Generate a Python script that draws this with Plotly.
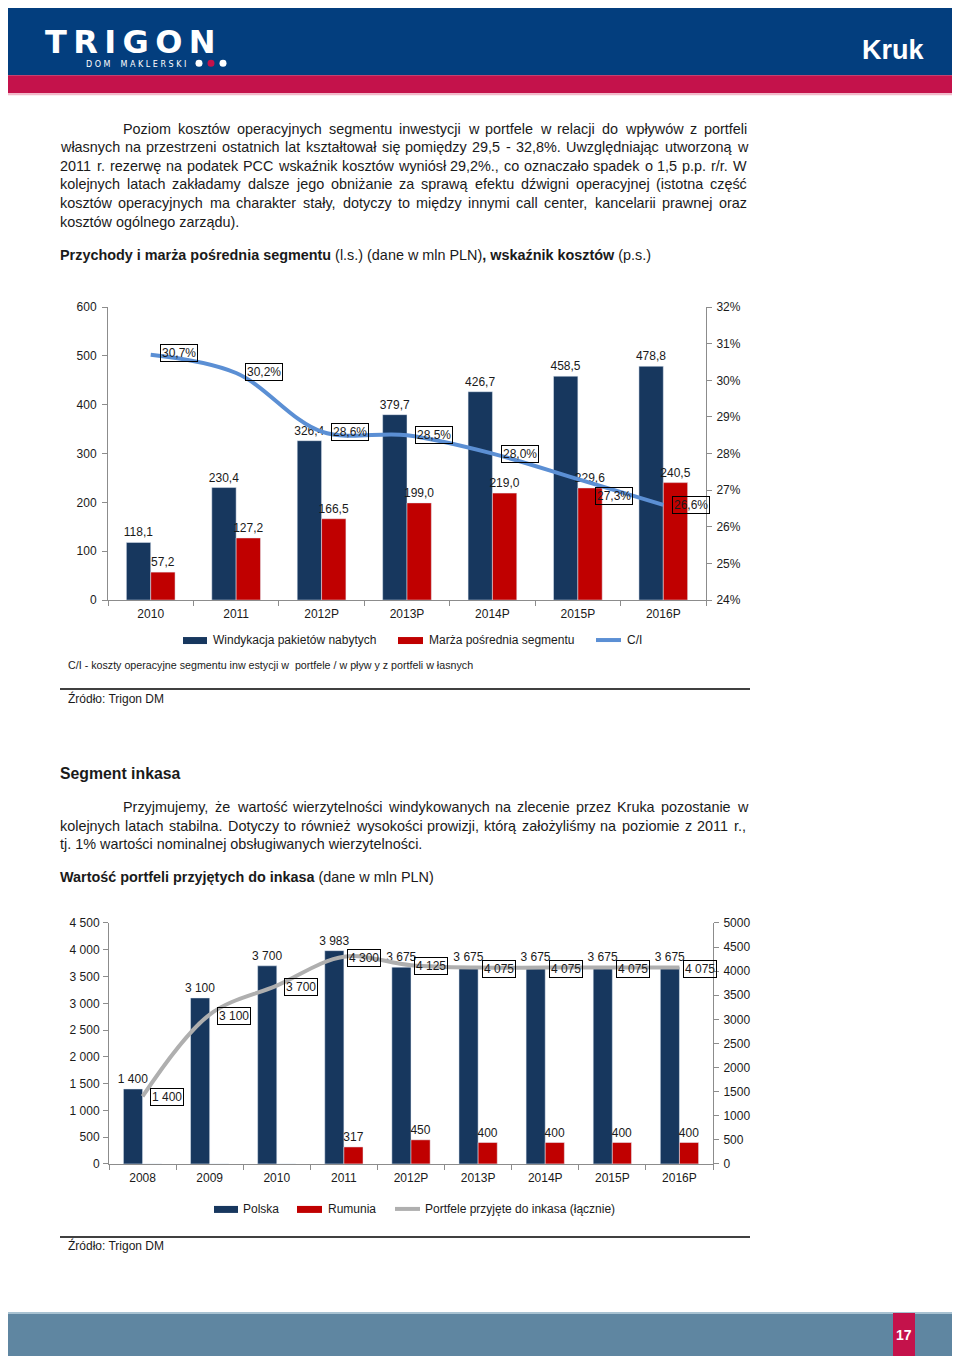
import plotly.graph_objects as go

# ---------------- data ----------------
years1 = ["2010", "2011", "2012P", "2013P", "2014P", "2015P", "2016P"]
windykacja = [118.1, 230.4, 326.4, 379.7, 426.7, 458.5, 478.8]
marza = [57.2, 127.2, 166.5, 199.0, 219.0, 229.6, 240.5]
ci_ratio = [30.7, 30.2, 28.6, 28.5, 28.0, 27.3, 26.6]
y1_ticks = [0, 100, 200, 300, 400, 500, 600]
y2_ticks = [24, 25, 26, 27, 28, 29, 30, 31, 32]

years2 = ["2008", "2009", "2010", "2011", "2012P", "2013P", "2014P", "2015P", "2016P"]
polska = [1400, 3100, 3700, 3983, 3675, 3675, 3675, 3675, 3675]
rumunia = [0, 0, 0, 317, 450, 400, 400, 400, 400]
portfele = [1400, 3100, 3700, 4300, 4125, 4075, 4075, 4075, 4075]
y3_ticks = [0, 500, 1000, 1500, 2000, 2500, 3000, 3500, 4000, 4500]
y4_ticks = [0, 500, 1000, 1500, 2000, 2500, 3000, 3500, 4000, 4500, 5000]

# ---------------- styles ----------------
LEFT = 8          # horizontal page offset of the figure
TOP = 15          # vertical page offset of the figure
SY = 0.9898       # vertical page-to-picture factor
W, H = 944, 1348
NAVY_BAR = "#17375E"
RED_BAR = "#C00000"
BLUE_LINE = "#5B8FD4"
GREY_LINE = "#AFAFAF"
HDR_NAVY = "#033E7E"
HDR_RED = "#C4124B"
FOOT = "#5F86A1"
AXIS = "#8C8C8C"
TXT = "#1A1A1A"
FONT = "Liberation Sans, Arial, sans-serif"
BODY = 14.4
CH = 12

def X(px):
    return (px - LEFT) / W

def Y(py):
    return 1 - (py / SY - TOP) / H

def dec1(v):
    return f"{v:.1f}".replace(".", ",")

def thou(v):
    return f"{v:,.0f}".replace(",", " ")

# Arial / Liberation Sans advance widths (1/1000 em) for justification
_AW = {" ": 278, ",": 278, ".": 278, "-": 333, "%": 889, "(": 333, ")": 333, "/": 278}
for _c, _w in zip("abcdefghijklmnopqrstuvwxyz",
                  [556, 556, 500, 556, 556, 278, 556, 556, 222, 222, 500, 222, 833,
                   556, 556, 556, 556, 333, 500, 278, 556, 500, 722, 500, 500, 500]):
    _AW[_c] = _w
for _c, _w in zip("ABCDEFGHIJKLMNOPQRSTUVWXYZ",
                  [667, 667, 722, 722, 667, 611, 778, 722, 278, 500, 667, 556, 833,
                   722, 778, 667, 778, 722, 667, 611, 722, 667, 944, 667, 667, 611]):
    _AW[_c] = _w
for _c in "0123456789":
    _AW[_c] = 556
_AW.update({"ą": 556, "ć": 500, "ę": 556, "ł": 222, "ń": 556, "ó": 556, "ś": 500,
            "ź": 500, "ż": 500, "Ź": 611})

def tw(s, size):
    return sum(_AW.get(c, 556) for c in s) * size / 1000.0

fig = go.Figure()

# ---------------- chart 1 ----------------
fig.add_trace(go.Bar(x=years1, y=windykacja, marker_color=NAVY_BAR, xaxis="x", yaxis="y",
                     text=[dec1(v) for v in windykacja], textposition="outside",
                     constraintext="none", cliponaxis=False,
                     textfont=dict(size=CH, color=TXT, family=FONT), showlegend=False))
fig.add_trace(go.Bar(x=years1, y=marza, marker_color=RED_BAR, xaxis="x", yaxis="y",
                     text=[dec1(v) for v in marza], textposition="outside",
                     constraintext="none", cliponaxis=False,
                     textfont=dict(size=CH, color=TXT, family=FONT), showlegend=False))
fig.add_trace(go.Scatter(x=years1, y=ci_ratio, xaxis="x", yaxis="y2", mode="lines",
                         line=dict(color=BLUE_LINE, width=4, shape="spline", smoothing=1.0),
                         showlegend=False, cliponaxis=False))

ci_shift = [(9, 2), (9, 1), (9, 0), (8, 0), (9, 0), (17, -17), (9, 0)]
annotations = []
for i, (v, (dx, dy)) in enumerate(zip(ci_ratio, ci_shift)):
    annotations.append(dict(x=i, y=v, xref="x", yref="y2", text=dec1(v) + "%",
                            showarrow=False, xanchor="left", yanchor="middle",
                            xshift=dx, yshift=dy, bordercolor="#000000", borderwidth=1,
                            borderpad=1, font=dict(size=CH, color=TXT, family=FONT)))

# ---------------- chart 2 ----------------
fig.add_trace(go.Bar(x=years2, y=polska, marker_color=NAVY_BAR, xaxis="x2", yaxis="y3",
                     text=[thou(v) for v in polska], textposition="outside",
                     constraintext="none", cliponaxis=False,
                     textfont=dict(size=CH, color=TXT, family=FONT), showlegend=False))
fig.add_trace(go.Bar(x=years2, y=rumunia, marker_color=RED_BAR, xaxis="x2", yaxis="y3",
                     text=[thou(v) if v > 0 else "" for v in rumunia], textposition="outside",
                     constraintext="none", cliponaxis=False,
                     textfont=dict(size=CH, color=TXT, family=FONT), showlegend=False))
fig.add_trace(go.Scatter(x=years2, y=portfele, xaxis="x2", yaxis="y4", mode="lines",
                         line=dict(color=GREY_LINE, width=4, shape="spline", smoothing=1.0),
                         showlegend=False, cliponaxis=False))
pf_shift = [7, 7, 7, 3, 3, 4, 4, 4, 4]
for i, (v, dx) in enumerate(zip(portfele, pf_shift)):
    annotations.append(dict(x=i, y=v, xref="x2", yref="y4", text=thou(v),
                            showarrow=False, xanchor="left", yanchor="middle",
                            xshift=dx, yshift=-1, bordercolor="#000000", borderwidth=1,
                            borderpad=1, font=dict(size=CH, color=TXT, family=FONT)))

axis_common = dict(showline=True, linecolor=AXIS, linewidth=1, ticks="outside",
                   tickcolor=AXIS, ticklen=5, showgrid=False, zeroline=False,
                   tickfont=dict(size=CH, color=TXT, family=FONT))

fig.update_layout(
    width=W, height=H, autosize=False,
    margin=dict(l=0, r=0, t=0, b=0),
    paper_bgcolor="white", plot_bgcolor="rgba(0,0,0,0)",
    barmode="group", bargap=0.43, bargroupgap=0.0,
    showlegend=False,
    font=dict(family=FONT, color=TXT),
    xaxis=dict(domain=[X(108), X(706)], anchor="y", type="category", tickson="boundaries",
               range=[-0.5, len(years1) - 0.5], tickangle=0, ticklabelstandoff=3,
               **axis_common),
    yaxis=dict(domain=[Y(600), Y(307)], anchor="x", range=[0, 600], tickvals=y1_ticks,
               ticklabelstandoff=3, **axis_common),
    yaxis2=dict(overlaying="y", anchor="x", side="right", range=[24, 32], tickvals=y2_ticks,
                ticktext=[f"{t}%" for t in y2_ticks], ticklabelstandoff=2, **axis_common),
    xaxis2=dict(domain=[X(109), X(713)], anchor="y3", type="category", tickson="boundaries",
                range=[-0.5, len(years2) - 0.5], tickangle=0, ticklabelstandoff=3,
                **axis_common),
    yaxis3=dict(domain=[Y(1164), Y(923)], anchor="x2", range=[0, 4500], tickvals=y3_ticks,
                ticktext=[thou(t) for t in y3_ticks], ticklabelstandoff=1, **axis_common),
    yaxis4=dict(overlaying="y3", anchor="x2", side="right", range=[0, 5000], tickvals=y4_ticks,
                ticktext=[str(t) for t in y4_ticks], ticklabelstandoff=2, **axis_common),
)

shapes = []

def rect(x0, y0, x1, y1, color):
    shapes.append(dict(type="rect", xref="paper", yref="paper", x0=X(x0), x1=X(x1),
                       y0=Y(y1), y1=Y(y0), fillcolor=color, line=dict(width=0), layer="below"))

def hline(x0, x1, y, color, width):
    shapes.append(dict(type="line", xref="paper", yref="paper", x0=X(x0), x1=X(x1),
                       y0=Y(y), y1=Y(y), line=dict(color=color, width=width)))

def circle(cx, cy, r, color):
    shapes.append(dict(type="circle", xref="paper", yref="paper", x0=X(cx - r), x1=X(cx + r),
                       y0=Y(cy + r), y1=Y(cy - r), fillcolor=color, line=dict(width=0)))

def text(x, y, s, size=BODY, color=TXT, anchor="left", family=FONT):
    annotations.append(dict(x=X(x), y=Y(y), xref="paper", yref="paper", text=s,
                            showarrow=False, xanchor=anchor, yanchor="middle",
                            font=dict(size=size, color=color, family=family)))

def justified(x0, x1, y, s, size=BODY):
    words = s.split(" ")
    total = sum(tw(w, size) for w in words)
    gap = (x1 - x0 - total) / (len(words) - 1)
    x = x0
    for w in words:
        text(x - 1, y, w, size=size)
        x += tw(w, size) + gap

# header
rect(0, 0, 960, 75, HDR_NAVY)
rect(0, 75, 960, 93, HDR_RED)
rect(0, 93, 960, 95, "#F2B8C8")
text(43, 42, "<b>T\u2009R\u2009I\u2009G\u2009O\u2009N</b>", size=32, color="white",
     family="DejaVu Sans, Liberation Sans")
text(84, 64, "D O M    M A K L E R S K I", size=8, color="white", family="DejaVu Sans")
circle(199, 63, 3.5, "white")
circle(211, 63, 3.5, HDR_RED)
circle(223, 63, 3.5, "white")
text(926, 50, "<b>Kruk</b>", size=27, color="white", anchor="right")

# footer
rect(0, 1313, 960, 1370, FOOT)
rect(0, 1312, 960, 1314, "#A8C2D2")
rect(893, 1313, 915, 1370, HDR_RED)
text(904, 1335, "<b>17</b>", size=14, color="white", anchor="center")

RIGHT = 746
# paragraph 1
para1 = [
    (122, 129, True, "Poziom kosztów operacyjnych segmentu inwestycji w portfele w relacji do wpływów z portfeli"),
    (59, 147, True, "własnych na przestrzeni ostatnich lat kształtował się pomiędzy 29,5 - 32,8%. Uwzględniając utworzoną w"),
    (59, 166, True, "2011 r. rezerwę na podatek PCC wskaźnik kosztów wyniósł 29,2%., co oznaczało spadek o 1,5 p.p. r/r. W"),
    (59, 184, True, "kolejnych latach zakładamy dalsze jego obniżanie za sprawą efektu dźwigni operacyjnej (istotna część"),
    (59, 203, True, "kosztów operacyjnych ma charakter stały, dotyczy to między innymi call center, kancelarii prawnej oraz"),
    (59, 222, False, "kosztów ogólnego zarządu)."),
]
for x, y, just, s in para1:
    if just:
        justified(x, RIGHT, y, s)
    else:
        text(x - 1, y, s)
text(58, 255, "<b>Przychody i marża pośrednia segmentu</b> (l.s.) (dane w mln PLN)<b>, wskaźnik kosztów</b> (p.s.)")

# legend chart 1
rect(183, 637, 207, 644, NAVY_BAR)
text(211, 640, "Windykacja pakietów nabytych", size=CH)
rect(398, 637, 423, 644, RED_BAR)
text(427, 640, "Marża pośrednia segmentu", size=CH)
hline(596, 621, 640, BLUE_LINE, 4)
text(625, 640, "C/I", size=CH)

text(66, 665, "C/I - koszty operacyjne segmentu inw estycji w  portfele / w pływ y z portfeli w łasnych", size=10.7)
hline(60, 750, 689, "#404040", 2)
text(66, 698, "Źródło: Trigon DM", size=CH)

# section 2
text(58, 773, "<b>Segment inkasa</b>", size=15.8)
para2 = [
    (122, 807, True, "Przyjmujemy, że wartość wierzytelności windykowanych na zlecenie przez Kruka pozostanie w"),
    (59, 826, True, "kolejnych latach stabilna. Dotyczy to również wysokości prowizji, którą założyliśmy na poziomie z 2011 r.,"),
    (59, 844, False, "tj. 1% wartości nominalnej obsługiwanych wierzytelności."),
]
for x, y, just, s in para2:
    if just:
        justified(x, RIGHT, y, s)
    else:
        text(x - 1, y, s)
text(58, 877, "<b>Wartość portfeli przyjętych do inkasa</b> (dane w mln PLN)")

# legend chart 2
rect(214, 1206, 238, 1213, NAVY_BAR)
text(241, 1209, "Polska", size=CH)
rect(297, 1206, 322, 1213, RED_BAR)
text(326, 1209, "Rumunia", size=CH)
hline(395, 420, 1209, GREY_LINE, 4)
text(423, 1209, "Portfele przyjęte do inkasa (łącznie)", size=CH)

hline(60, 750, 1237, "#404040", 2)
text(66, 1246, "Źródło: Trigon DM", size=CH)

fig.update_layout(shapes=shapes, annotations=annotations)
fig.write_html("out.html")
